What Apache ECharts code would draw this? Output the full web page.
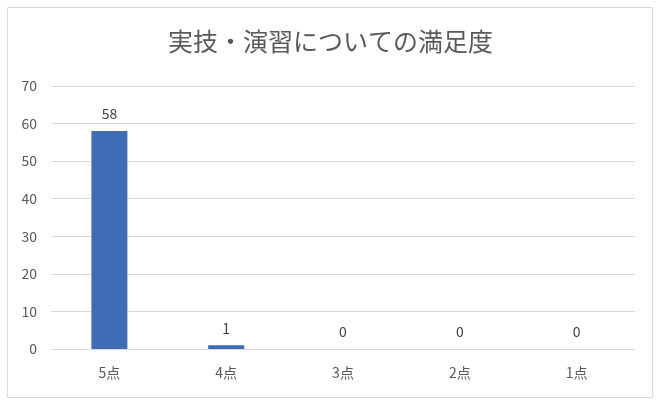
<!DOCTYPE html>
<html>
<head>
<meta charset="utf-8">
<script src="https://cdn.jsdelivr.net/npm/echarts@6/dist/echarts.min.js"></script>
<style>
  html, body { margin: 0; padding: 0; background: #fff; }
  #main { width: 661px; height: 412px; }
</style>
</head>
<body>
<div id="main"></div>
<script>
var titleText = '実技・演習についての満足度';
var categories = ['5点', '4点', '3点', '2点', '1点'];
var counts = [58, 1, 0, 0, 0];
var yMax = 70;
var yStep = 10;

var chart = echarts.init(document.getElementById('main'), null, { renderer: 'canvas' });
var font = '"Noto Sans CJK JP", "Noto Sans", sans-serif';

chart.setOption({
  animation: false,
  textStyle: { fontFamily: font },
  // 外枠
  graphic: [{
    type: 'rect',
    shape: { x: 7.5, y: 7.5, width: 645, height: 390 },
    style: { fill: 'none', stroke: '#d9d9d9', lineWidth: 1 },
    silent: true
  }],
  title: {
    text: titleText,
    left: 'center',
    top: 24,
    textStyle: {
      color: '#595959',
      fontSize: 25,
      fontWeight: 'normal',
      fontFamily: font
    }
  },
  grid: { left: 51, right: 26, top: 86, bottom: 63 },
  xAxis: {
    type: 'category',
    data: categories,
    axisLine: { lineStyle: { color: '#d9d9d9', width: 1 } },
    axisTick: { show: false },
    axisLabel: { color: '#595959', fontSize: 14, margin: 17, fontFamily: font }
  },
  yAxis: {
    type: 'value',
    min: 0,
    max: yMax,
    interval: yStep,
    axisLine: { show: false },
    axisTick: { show: false },
    splitLine: { lineStyle: { color: '#d9d9d9', width: 1 } },
    axisLabel: { color: '#595959', fontSize: 14, margin: 14, fontFamily: font }
  },
  series: [{
    type: 'bar',
    data: counts,
    barWidth: 36,
    itemStyle: { color: '#3F6DB5' },
    label: {
      show: true,
      position: 'top',
      distance: 10,
      color: '#404040',
      fontSize: 14,
      fontFamily: font
    }
  }]
});
</script>
</body>
</html>
